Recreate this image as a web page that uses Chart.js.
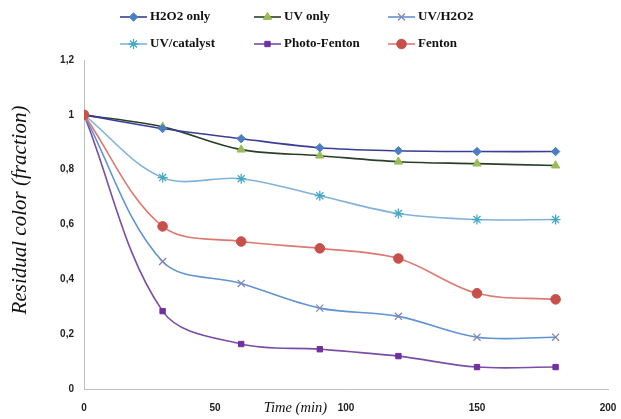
<!DOCTYPE html>
<html>
<head>
<meta charset="utf-8">
<script src="https://cdn.jsdelivr.net/npm/chart.js@4.4.1/dist/chart.umd.min.js"></script>
<style>
  body { margin: 0; background: #fff; }
  #wrap { width: 621px; height: 419px; }
</style>
</head>
<body>
<div id="wrap"><canvas id="chart" width="621" height="419"></canvas></div>
<script>
// Time axis (min) and residual colour fractions
const times = [0, 30, 60, 90, 120, 150, 180];
const h2o2Only    = [1, 0.95, 0.913, 0.88, 0.869, 0.866, 0.866];
const uvOnly      = [1, 0.956, 0.873, 0.851, 0.829, 0.822, 0.815];
const uvH2o2      = [1, 0.465, 0.385, 0.295, 0.265, 0.189, 0.189];
const uvCatalyst  = [1, 0.771, 0.767, 0.705, 0.64, 0.618, 0.618];
const photoFenton = [1, 0.284, 0.164, 0.145, 0.12, 0.08, 0.08];
const fenton      = [1, 0.593, 0.538, 0.513, 0.476, 0.349, 0.327];

const xTicks = [0, 50, 100, 150, 200];
const yTicks = [0, 0.2, 0.4, 0.6, 0.8, 1, 1.2];
const yTickLabels = ['0', '0,2', '0,4', '0,6', '0,8', '1', '1,2'];

function pts(values) {
    return times.map((t, i) => ({ x: t, y: values[i] }));
}

function series(label, values, lineColor, markColor, style, radius, order) {
    return {
        label: label,
        data: pts(values),
        borderColor: lineColor,
        borderWidth: 1.6,
        pointStyle: style,
        pointRadius: radius,
        pointBackgroundColor: markColor,
        pointBorderColor: markColor,
        pointBorderWidth: (style === 'crossRot' || style === 'star') ? 1.3 : 1,
        tension: 0.35,
        order: order
    };
}

const datasets = [
    series('H2O2 only', h2o2Only, '#3a3d95', '#4a7ec4', 'rectRot', 4.2, 1),
    series('UV only', uvOnly, '#2a3f2a', '#9bbb59', 'triangle', 4.8, 1),
    series('UV/H2O2', uvH2o2, '#5f93d2', '#8585b5', 'crossRot', 5, 1),
    series('UV/catalyst', uvCatalyst, '#80b2dc', '#46a9c4', 'star', 5, 1),
    series('Photo-Fenton', photoFenton, '#7a4ea6', '#7030a0', 'rect', 3.8, 1),
    series('Fenton', fenton, '#dc7a72', '#c8504b', 'circle', 4.8, 0)
];

// legend grid + axis titles drawn on top of the chart
const extras = {
    id: 'extras',
    afterDraw(chart) {
        const ctx = chart.ctx;
        const cols = [120, 254, 388];
        const rows = [17, 44];
        ctx.save();
        chart.data.datasets.forEach((ds, i) => {
            const x = cols[i % 3];
            const y = rows[Math.floor(i / 3)];
            ctx.strokeStyle = ds.borderColor;
            ctx.lineWidth = 1.6;
            ctx.beginPath();
            ctx.moveTo(x, y);
            ctx.lineTo(x + 27, y);
            ctx.stroke();
            ctx.fillStyle = ds.pointBackgroundColor;
            ctx.strokeStyle = ds.pointBorderColor;
            ctx.lineWidth = ds.pointBorderWidth;
            Chart.helpers.drawPoint(ctx, {
                pointStyle: ds.pointStyle,
                radius: ds.pointRadius,
                borderWidth: ds.pointBorderWidth,
                rotation: 0
            }, x + 13.5, y);
            ctx.fillStyle = '#111';
            ctx.font = 'bold 13px "Liberation Serif"';
            ctx.textAlign = 'left';
            ctx.textBaseline = 'middle';
            ctx.fillText(ds.label, x + 30, y);
        });

        ctx.fillStyle = '#111';
        ctx.font = 'italic 14.5px "Liberation Serif"';
        ctx.textAlign = 'right';
        ctx.textBaseline = 'middle';
        ctx.fillText('Time (min)', 327, 408);

        ctx.translate(20, 210);
        ctx.rotate(-Math.PI / 2);
        ctx.font = 'italic 21px "Liberation Serif"';
        ctx.textAlign = 'center';
        ctx.fillText('Residual color (fraction)', 0, 0);
        ctx.restore();
    }
};

new Chart(document.getElementById('chart'), {
    type: 'line',
    data: { datasets: datasets },
    plugins: [extras],
    options: {
        responsive: false,
        animation: false,
        layout: { padding: { top: 60, right: 13, bottom: 0, left: 0 } },
        plugins: {
            legend: { display: false },
            tooltip: { enabled: false }
        },
        scales: {
            x: {
                type: 'linear',
                min: 0,
                max: 200,
                afterBuildTicks: (scale) => { scale.ticks = xTicks.map(v => ({ value: v })); },
                afterFit: (scale) => { scale.height = 30; },
                // tick marks are hidden; tickLength only pushes the labels down
                grid: { display: false, drawTicks: true, tickLength: 13 },
                border: { display: true, color: '#bfbfbf', width: 1 },
                ticks: {
                    padding: 0,
                    maxRotation: 0,
                    color: '#222',
                    font: { family: '"Liberation Sans"', size: 10, weight: 'bold' }
                }
            },
            y: {
                min: 0,
                max: 1.2,
                afterBuildTicks: (scale) => { scale.ticks = yTicks.map(v => ({ value: v })); },
                afterFit: (scale) => { scale.width = 84; },
                grid: { display: false, drawTicks: false },
                border: { display: true, color: '#bfbfbf', width: 1 },
                ticks: {
                    padding: 10,
                    color: '#222',
                    font: { family: '"Liberation Sans"', size: 10, weight: 'bold' },
                    callback: (v, i) => yTickLabels[i]
                }
            }
        }
    }
});
</script>
</body>
</html>
